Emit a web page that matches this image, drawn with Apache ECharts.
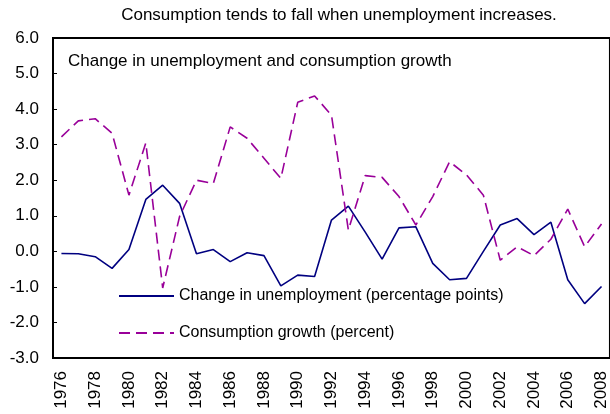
<!DOCTYPE html>
<html>
<head>
<meta charset="utf-8">
<script src="https://cdn.jsdelivr.net/npm/echarts@6/dist/echarts.min.js"></script>
<style>
	html, body { margin: 0; padding: 0; background: #fff; }
	#chart { width: 610px; height: 414px; }
</style>
</head>
<body>
<div id="chart"></div>
<script>
var years = ['1976','1977','1978','1979','1980','1981','1982','1983','1984','1985','1986','1987','1988','1989','1990','1991','1992',
	'1993','1994','1995','1996','1997','1998','1999','2000','2001','2002','2003','2004','2005','2006','2007','2008'];
// change in unemployment (percentage points)
var unemployment = [-0.06, -0.07, -0.15, -0.48, 0.05, 1.46, 1.86, 1.35, -0.07, 0.05, -0.29, -0.04, -0.12, -0.97, -0.67, -0.71, 0.88,
	1.27, 0.54, -0.22, 0.66, 0.69, -0.34, -0.8, -0.76, 0.0, 0.74, 0.92, 0.47, 0.82, -0.8, -1.47, -0.99];
// consumption growth (percent)
var consumption = [3.22, 3.67, 3.73, 3.32, 1.58, 3.05, -1.03, 0.98, 2.0, 1.91, 3.5, 3.18, 2.62, 2.05, 4.19, 4.37, 3.83,
	0.6, 2.13, 2.08, 1.54, 0.74, 1.54, 2.52, 2.15, 1.58, -0.25, 0.13, -0.12, 0.34, 1.19, 0.13, 0.77];
var yTicks = { min: -3, max: 6, step: 1 };

var font = 'Liberation Sans, Arial, sans-serif';
var myChart = echarts.init(document.getElementById('chart'));
var option = {
	animation: false,
	textStyle: { fontFamily: font, color: '#000' },
	title: [{
		text: 'Consumption tends to fall when unemployment increases.',
		left: 334, top: 2, textAlign: 'center',
		textStyle: { fontFamily: font, fontSize: 17, fontWeight: 'normal', color: '#000' }
	}, {
		text: 'Change in unemployment and consumption growth',
		left: 63, top: 48,
		textStyle: { fontFamily: font, fontSize: 17, fontWeight: 'normal', color: '#000' }
	}],
	legend: {
		orient: 'vertical',
		left: 113, top: 283,
		itemWidth: 55, itemHeight: 10, itemGap: 21,
		itemStyle: { opacity: 0 },
		textStyle: { fontFamily: font, fontSize: 16, color: '#000' },
		data: ['Change in unemployment (percentage points)', 'Consumption growth (percent)']
	},
	grid: {
		left: 53, top: 38, right: -1, bottom: 56,
		show: true, borderColor: '#000', borderWidth: 2, backgroundColor: 'transparent'
	},
	xAxis: {
		type: 'category',
		data: years,
		boundaryGap: true,
		axisLine: { onZero: false, lineStyle: { color: '#000', width: 2 } },
		axisTick: { inside: true, length: 4, interval: 0, lineStyle: { color: '#000' } },
		axisLabel: { rotate: 90, interval: 1, margin: 13, fontSize: 17, color: '#000', fontFamily: font }
	},
	yAxis: {
		type: 'value',
		min: yTicks.min, max: yTicks.max, interval: yTicks.step,
		splitLine: { show: false },
		axisLine: { show: true, lineStyle: { color: '#000', width: 2 } },
		axisTick: { show: true, inside: true, length: 4, lineStyle: { color: '#000' } },
		axisLabel: { margin: 14, fontSize: 17, color: '#000', fontFamily: font,
			formatter: function (v) { return v.toFixed(1); } }
	},
	series: [{
		name: 'Change in unemployment (percentage points)',
		type: 'line',
		data: unemployment,
		symbol: 'none',
		lineStyle: { color: '#000080', width: 1.6 },
		itemStyle: { color: '#000080' }
	}, {
		name: 'Consumption growth (percent)',
		type: 'line',
		data: consumption,
		symbol: 'none',
		lineStyle: { color: '#990099', width: 1.6, type: [11, 6] },
		itemStyle: { color: '#990099' }
	}]
};
myChart.setOption(option);
</script>
</body>
</html>
